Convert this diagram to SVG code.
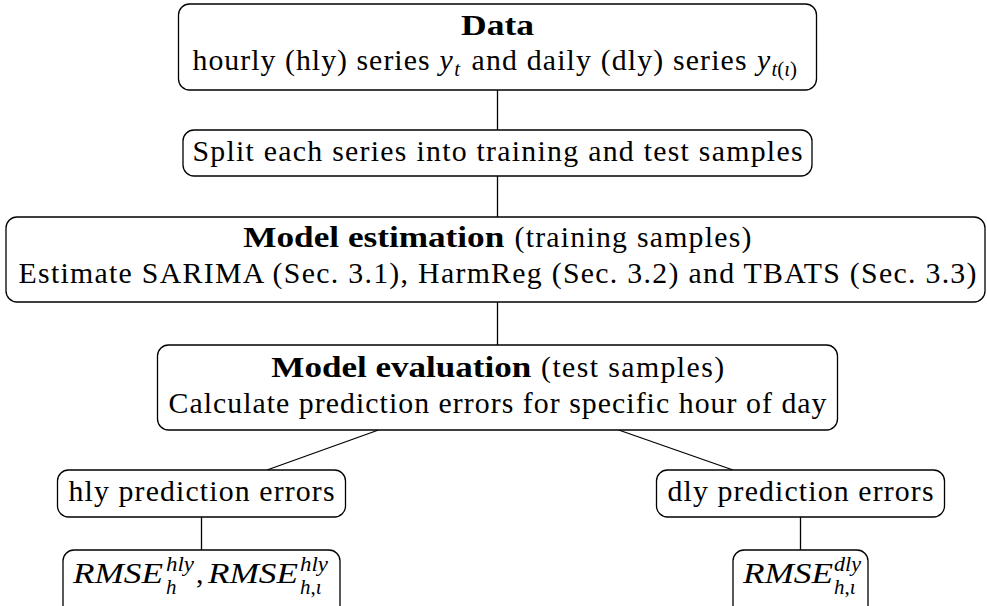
<svg xmlns="http://www.w3.org/2000/svg" width="987" height="606" viewBox="0 0 987 606">
<style>
.box{fill:#fff;stroke:#000;stroke-width:1.3}
.ln{stroke:#000;stroke-width:1.3;fill:none}
text{font-family:"Liberation Serif","Times New Roman",serif;font-size:29.8px;fill:#000}
.b{font-weight:bold}
.i{font-style:italic}
.s{font-size:20.9px}
</style>
<rect width="987" height="606" fill="#fff"/>
<g id="connectors">
<line class="ln" x1="497.5" y1="90" x2="497.5" y2="130"/>
<line class="ln" x1="497.5" y1="176" x2="497.5" y2="217"/>
<line class="ln" x1="497.5" y1="302" x2="497.5" y2="345"/>
<line class="ln" x1="378.5" y1="430" x2="267" y2="470"/>
<line class="ln" x1="618.7" y1="430" x2="733" y2="470"/>
<line class="ln" x1="201.5" y1="517" x2="201.5" y2="550"/>
<line class="ln" x1="800.5" y1="517" x2="800.5" y2="550"/>
</g>
<g id="data">
<rect class="box" x="178.5" y="4" width="638" height="86" rx="11"/>
<text class="b" x="497.5" y="35" text-anchor="middle" textLength="73" lengthAdjust="spacingAndGlyphs">Data</text>
<text x="192.5" y="70" textLength="237" lengthAdjust="spacing">hourly (hly) series</text>
<text class="i" x="439.6" y="70">y</text>
<text class="i s" x="454.2" y="76">t</text>
<text x="471.6" y="70" textLength="275" lengthAdjust="spacing">and daily (dly) series</text>
<text class="i" x="756.9" y="70">y</text>
<text class="s" x="771.5" y="76"><tspan class="i">t</tspan>(<tspan class="i">ι</tspan>)</text>
</g>
<g id="split">
<rect class="box" x="183" y="130" width="629" height="46" rx="11"/>
<text x="497.5" y="161" text-anchor="middle" textLength="610" lengthAdjust="spacing">Split each series into training and test samples</text>
</g>
<g id="estimation">
<rect class="box" x="6" y="217" width="979" height="85" rx="11"/>
<text class="b" x="243.3" y="247" textLength="261" lengthAdjust="spacingAndGlyphs">Model estimation</text>
<text x="514.5" y="247" textLength="237" lengthAdjust="spacing">(training samples)</text>
<text x="497.5" y="283" text-anchor="middle" textLength="958" lengthAdjust="spacing">Estimate SARIMA (Sec. 3.1), HarmReg (Sec. 3.2) and TBATS (Sec. 3.3)</text>
</g>
<g id="evaluation">
<rect class="box" x="157.5" y="345" width="680" height="85" rx="11"/>
<text class="b" x="271.3" y="377" textLength="260" lengthAdjust="spacingAndGlyphs">Model evaluation</text>
<text x="541.1" y="377" textLength="183" lengthAdjust="spacing">(test samples)</text>
<text x="497.5" y="413" text-anchor="middle" textLength="658" lengthAdjust="spacing">Calculate prediction errors for specific hour of day</text>
</g>
<g id="hly">
<rect class="box" x="57.5" y="470" width="288" height="47" rx="11"/>
<text x="201.5" y="501" text-anchor="middle" textLength="266" lengthAdjust="spacing">hly prediction errors</text>
</g>
<g id="dly">
<rect class="box" x="656.5" y="470" width="288" height="47" rx="11"/>
<text x="800.5" y="501" text-anchor="middle" textLength="266" lengthAdjust="spacing">dly prediction errors</text>
</g>
<g id="rmse-hly">
<rect class="box" x="63" y="550" width="277" height="70" rx="11"/>
<text class="i" x="73" y="583" textLength="90" lengthAdjust="spacingAndGlyphs">RMSE</text>
<text class="i s" x="166" y="571" textLength="28" lengthAdjust="spacingAndGlyphs">hly</text>
<text class="i s" x="166" y="594">h</text>
<text x="196" y="583">,</text>
<text class="i" x="208" y="583" textLength="90" lengthAdjust="spacingAndGlyphs">RMSE</text>
<text class="i s" x="300" y="571" textLength="28" lengthAdjust="spacingAndGlyphs">hly</text>
<text class="s" x="300" y="594"><tspan class="i">h</tspan>,<tspan class="i">ι</tspan></text>
</g>
<g id="rmse-dly">
<rect class="box" x="733" y="550" width="135" height="70" rx="11"/>
<text class="i" x="743" y="583" textLength="90" lengthAdjust="spacingAndGlyphs">RMSE</text>
<text class="i s" x="834" y="571" textLength="27" lengthAdjust="spacingAndGlyphs">dly</text>
<text class="s" x="834" y="594"><tspan class="i">h</tspan>,<tspan class="i">ι</tspan></text>
</g>
</svg>
